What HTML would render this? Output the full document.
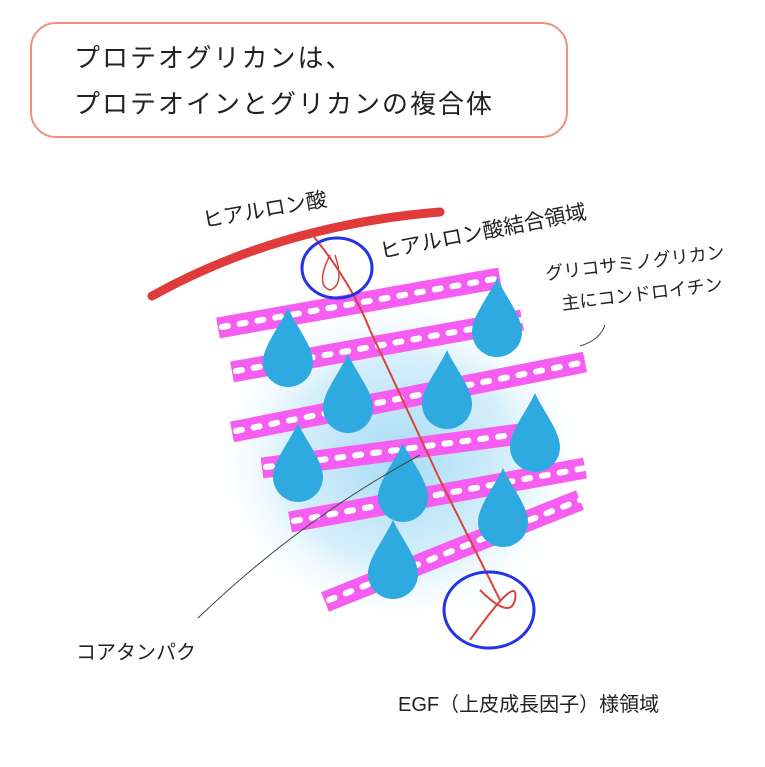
<!DOCTYPE html>
<html><head><meta charset="utf-8"><style>
body{margin:0;background:#fff;width:765px;height:767px;overflow:hidden;font-family:"Liberation Sans","Noto Sans CJK JP",sans-serif}
.box{position:absolute;left:30px;top:22px;width:538px;height:116px;border:2px solid #f0917a;border-radius:26px;box-sizing:border-box}
.t{position:absolute;color:#222;white-space:nowrap}
</style></head><body>
<div class="box"></div>
<div class="t" style="left:74px;top:38px;font-size:26px;letter-spacing:2px">プロテオグリカンは、</div>
<div class="t" style="left:74px;top:84px;font-size:26px;letter-spacing:2px">プロテオインとグリカンの複合体</div>
<svg width="765" height="767" style="position:absolute;left:0;top:0">
<defs>
<radialGradient id="g" cx="0.5" cy="0.5" r="0.5">
<stop offset="0" stop-color="#a8dcf5"/><stop offset="0.6" stop-color="#d6effb"/><stop offset="1" stop-color="#fff" stop-opacity="0"/>
</radialGradient>
<g id="d"><path d="M0,-50 C8,-32 25,-12 25,4 A25,25 0 0 1 -25,4 C-25,-12 -8,-32 0,-50Z" fill="#2eaae0"/></g>
</defs>
<ellipse cx="400" cy="460" rx="190" ry="170" fill="url(#g)"/>
<g fill="none">
<g stroke="#f55ef0" stroke-width="21">
<line x1="218" y1="328" x2="500" y2="278"/>
<line x1="232" y1="372" x2="522" y2="320"/>
<line x1="232" y1="432" x2="585" y2="362"/>
<line x1="262" y1="468" x2="550" y2="430"/>
<line x1="290" y1="522" x2="585" y2="468"/>
<line x1="325" y1="602" x2="580" y2="500"/>
</g>
<g stroke="#fff" stroke-width="6" stroke-dasharray="6 12" stroke-linecap="round">
<line x1="222" y1="327" x2="500" y2="278"/>
<line x1="236" y1="371" x2="522" y2="320"/>
<line x1="236" y1="431" x2="585" y2="362"/>
<line x1="266" y1="467" x2="550" y2="430"/>
<line x1="294" y1="521" x2="585" y2="468"/>
<line x1="329" y1="600" x2="580" y2="500"/>
</g></g>
<use href="#d" x="288" y="358"/><use href="#d" x="348" y="404"/><use href="#d" x="497" y="328"/>
<use href="#d" x="447" y="400"/><use href="#d" x="298" y="473"/><use href="#d" x="535" y="443"/>
<use href="#d" x="403" y="493"/><use href="#d" x="503" y="518"/><use href="#d" x="393" y="570"/>
<path d="M152,296 Q280,225 440,212" stroke="#e03a3a" stroke-width="9" fill="none" stroke-linecap="round"/>
<path d="M310,232 Q350,280 370,330 L440,480 Q470,540 500,600" stroke="#d9433a" stroke-width="2" fill="none"/>
<path d="M330,255 Q315,285 330,290 Q345,285 335,255" stroke="#d9433a" stroke-width="1.5" fill="none"/>
<path d="M470,640 Q520,570 515,600 Q510,620 480,590" stroke="#d9433a" stroke-width="2" fill="none"/>
<ellipse cx="337" cy="268" rx="35" ry="30" stroke="#2233e8" stroke-width="3" fill="none"/>
<ellipse cx="489" cy="610" rx="45" ry="38" stroke="#2233e8" stroke-width="3" fill="none"/>
<path d="M198,618 Q300,520 420,455" stroke="#444" stroke-width="1" fill="none"/>
<path d="M580,346 Q600,340 605,325" stroke="#444" stroke-width="1" fill="none"/>
</svg>
<div class="t" style="left:200px;top:205px;font-size:21px;transform:rotate(-10deg);transform-origin:left top">ヒアルロン酸</div>
<div class="t" style="left:377px;top:236px;font-size:21px;transform:rotate(-11deg);transform-origin:left top">ヒアルロン酸結合領域</div>
<div class="t" style="left:544px;top:260px;font-size:18px;transform:rotate(-7deg);transform-origin:left top">グリコサミノグリカン</div>
<div class="t" style="left:560px;top:290px;font-size:18px;transform:rotate(-7deg);transform-origin:left top">主にコンドロイチン</div>
<div class="t" style="left:76px;top:636px;font-size:20px">コアタンパク</div>
<div class="t" style="left:398px;top:688px;font-size:20px">EGF（上皮成長因子）様領域</div>
</body></html>
